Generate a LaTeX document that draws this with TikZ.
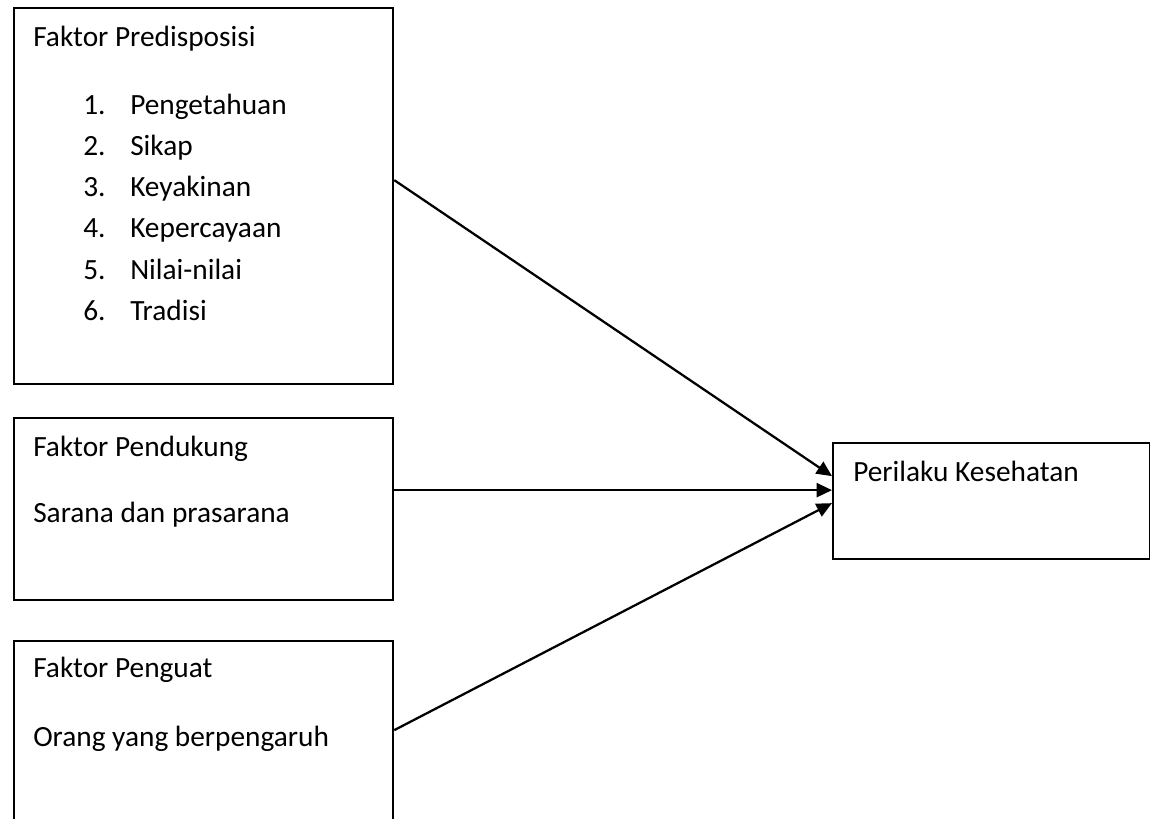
\documentclass[tikz,border=0pt]{standalone}
\usepackage{fontspec}
\setmainfont{Carlito}
\usepackage{tikz}
\usetikzlibrary{calc,positioning,arrows.meta}

\begin{document}
\begin{tikzpicture}[x=0.75pt,y=-0.75pt,
  kotak/.style={draw,line width=1.7pt,rectangle,anchor=north west,inner sep=0pt,minimum width=284.25pt},
  teks/.style={anchor=base west,inner sep=0pt,font=\fontsize{22}{26}\selectfont},
  panah/.style={line width=1.7pt,-{Triangle[length=11.5pt,width=10.5pt]}}]
\clip (0,0) rectangle (1150,818);
% kotak-kotak faktor
\node[kotak,minimum height=282pt] (pred) at (13,7) {};
\node[kotak,minimum height=136.5pt] (duk) at (13,417) {};
\node[kotak,minimum height=150pt] (kuat) at (13,640) {};
\node[kotak,minimum width=237.75pt,minimum height=87pt] (hasil) at (832,442) {};
% isi kotak
\node[teks] (predjudul) at (33,46) {Faktor Predisposisi};
\foreach \isi [count=\i] in {Pengetahuan,Sikap,Keyakinan,Kepercayaan,Nilai-nilai,Tradisi}{
  \node[teks] (no\i) at (83,{114+41.3*(\i-1)}) {\i.};
  \node[teks] (item\i) at (130,{114+41.3*(\i-1)}) {\isi};
}
\node[teks] (dukjudul) at (33,456) {Faktor Pendukung};
\node[teks] (dukisi) at (33,522) {Sarana dan prasarana};
\node[teks] (kuatjudul) at (33,677) {Faktor Penguat};
\node[teks] (kuatisi) at (33,746) {Orang yang berpengaruh};
\node[teks] (hasiljudul) at (853,481) {Perilaku Kesehatan};
% panah
\draw[panah] ($(pred.east)+(0,-16)$) -- ($(hasil.west)+(0,-25)$);
\draw[panah] ($(duk.east)+(0,-19)$) -- ($(hasil.west)+(0,-11)$);
\draw[panah] ($(kuat.east)+(0,-11)$) -- ($(hasil.west)+(0,2)$);
\end{tikzpicture}
\end{document}
